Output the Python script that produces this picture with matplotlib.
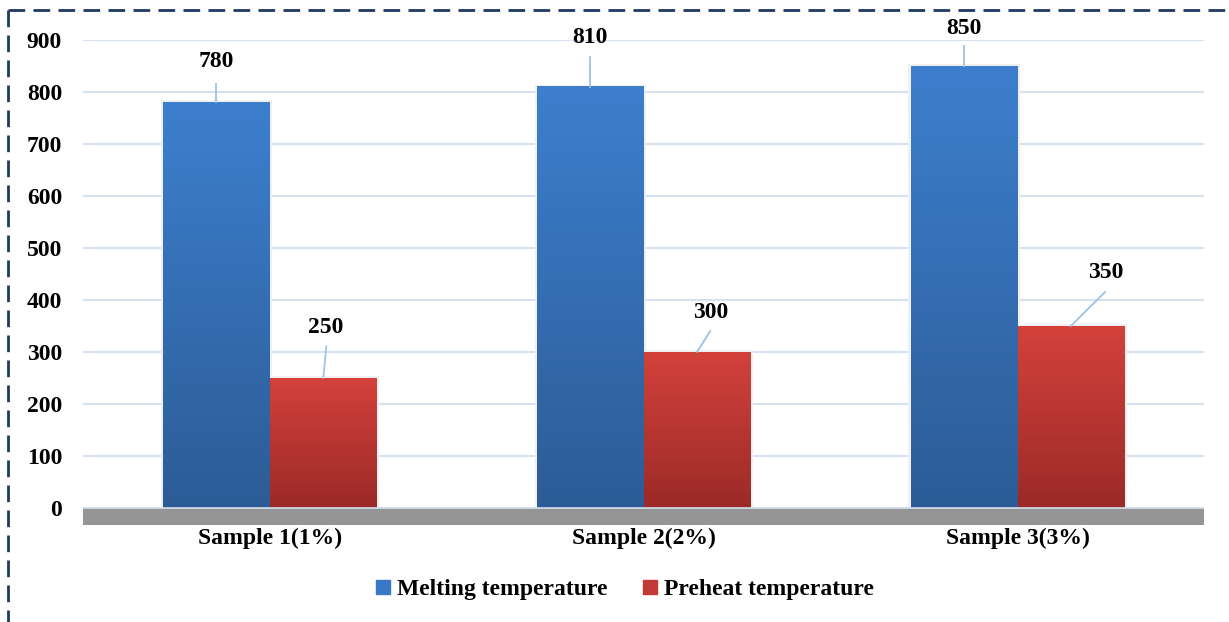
import numpy as np
import matplotlib
matplotlib.use("Agg")
import matplotlib.pyplot as plt
from matplotlib.colors import LinearSegmentedColormap
from matplotlib.lines import Line2D
from matplotlib.patches import Rectangle

# Data
samples = ["Sample 1(1%)", "Sample 2(2%)", "Sample 3(3%)"]
melting = [780, 810, 850]
preheat = [250, 300, 350]
series_names = ["Melting temperature", "Preheat temperature"]
yticks = [0, 100, 200, 300, 400, 500, 600, 700, 800, 900]

plt.rcParams["font.family"] = ["Liberation Serif", "DejaVu Serif"]
plt.rcParams["font.weight"] = "bold"

fig = plt.figure(figsize=(12.29, 6.22), dpi=100)
ax = fig.add_axes([0.0675, 0.156, 0.9125, 0.7797])

blue_cmap = LinearSegmentedColormap.from_list("b", ["#2c5c96", "#3d7fce"])
red_cmap = LinearSegmentedColormap.from_list("r", ["#9b2a28", "#d4413b"])

w = 0.286
x = np.arange(len(samples))
grad = np.linspace(0, 1, 256).reshape(-1, 1)

def grad_bars(xs, vals, cmap):
    for xi, v in zip(xs, vals):
        # faint shadow behind bar
        ax.add_patch(Rectangle((xi - w / 2 - 0.006, 0), w + 0.012, v + 4,
                               color="#f0f0f0", zorder=1, lw=0))
        ax.imshow(grad, cmap=cmap, origin="lower", aspect="auto",
                  extent=[xi - w / 2, xi + w / 2, 0, v], zorder=2)

grad_bars(x - w / 2, melting, blue_cmap)
grad_bars(x + w / 2, preheat, red_cmap)

# 3D-like floor
ax.axhspan(-33, 0, color="#959595", zorder=1, lw=0)
ax.axhline(0, color="#d5e0ee", lw=1.2, zorder=3)

ax.set_xlim(-0.5, 2.5)
ax.set_ylim(-33, 900)
ax.set_yticks(yticks)
ax.set_yticklabels([str(t) for t in yticks])
ax.yaxis.grid(True, color="#d6e2f1", lw=1.5)
ax.set_axisbelow(True)
ax.set_xticks(x)
ax.set_xticklabels(samples)
ax.tick_params(axis="both", length=0, labelsize=17)
ax.tick_params(axis="y", pad=15)
ax.tick_params(axis="x", pad=2)
for s in ax.spines.values():
    s.set_visible(False)

# data labels with leader lines: (dx of line end, line end y, dx of label, label y)
lead = "#9dc3e6"
lab_m = [(0.0, 815, 0.0, 858), (0.0, 867, 0.0, 904), (0.0, 888, 0.0, 923)]
lab_p = [(0.008, 310, 0.006, 346), (0.035, 340, 0.037, 375), (0.091, 415, 0.094, 452)]

def data_labels(xs, vals, offs):
    for xi, v, (ldx, ly, tdx, ty) in zip(xs, vals, offs):
        ax.plot([xi, xi + ldx], [v, ly], color=lead, lw=1.3, zorder=4,
                clip_on=False)
        ax.text(xi + tdx, ty, str(v), ha="center", va="center", fontsize=17,
                fontweight="bold", clip_on=False)

data_labels(x - w / 2, melting, lab_m)
data_labels(x + w / 2, preheat, lab_p)

# legend
handles = [Line2D([], [], marker="s", ls="none", color="#3a77c4", markersize=10),
           Line2D([], [], marker="s", ls="none", color="#c23a35", markersize=10)]
fig.legend(handles, series_names, loc="center", ncol=2, frameon=False,
           bbox_to_anchor=(0.502, 0.053), fontsize=17, handletextpad=-0.4,
           columnspacing=0.8)

# dashed border
fig.add_artist(Line2D([8 / 1229, 1.0], [1 - 10 / 622, 1 - 10 / 622],
                      transform=fig.transFigure, color="#1f3864", lw=2,
                      ls=(0, (6, 3))))
fig.add_artist(Line2D([8 / 1229, 8 / 1229], [1 - 10 / 622, 0],
                      transform=fig.transFigure, color="#1f3864", lw=2,
                      ls=(0, (6, 3))))

fig.savefig("out.png", dpi=100)
